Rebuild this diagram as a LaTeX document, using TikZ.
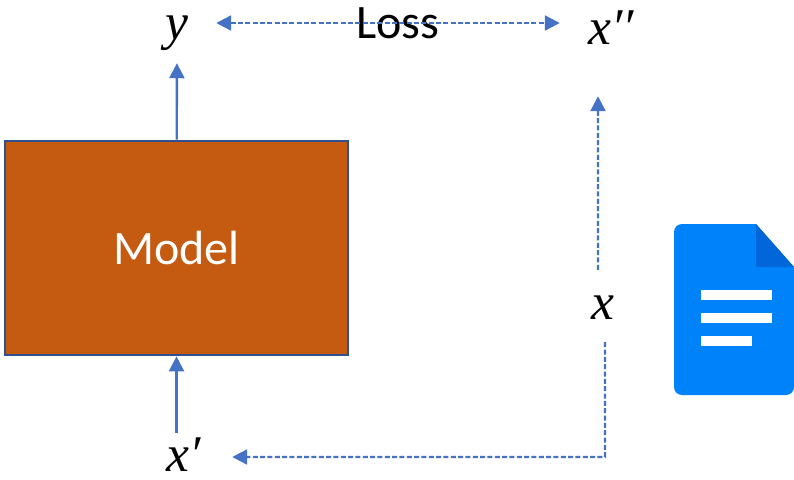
\documentclass[tikz,border=0pt]{standalone}
\usepackage{fontspec}
\usepackage{xcolor}
\setmainfont{Carlito}
\newfontfamily\symfont{Liberation Serif}
\usetikzlibrary{arrows.meta, calc}
\definecolor{lineblue}{RGB}{68, 114, 196}
\definecolor{boxrim}{RGB}{47, 82, 143}
\definecolor{boxfill}{RGB}{197, 90, 17}
\definecolor{docblue}{RGB}{0, 130, 251}
\definecolor{docfold}{RGB}{0, 102, 218}

\begin{document}
\begin{tikzpicture}[
  x=0.3mm, y=-0.3mm,
  every node/.style={font=\fontsize{41}{49}\selectfont, inner sep=0pt},
  sym/.style={font=\fontsize{44}{52}\symfont\itshape, text=black},
  modelbox/.style={draw=boxrim, fill=boxfill, line width=0.8mm, text=white, minimum width=10.29cm, minimum height=6.42cm},
  arrow/.style={-{Triangle[length=4.5mm, width=4.5mm]}, line width=0.7mm, color=lineblue},
  dasharrow/.style={arrow, dash pattern=on 1.5mm off 0.7mm}
]
  \useasboundingbox (0, 0) rectangle (794, 479);

  % Modello e simboli
  \node[modelbox] (model) at (176.5, 248) {Model};
  \node[sym, minimum width=2.34cm, minimum height=1.8cm] (y) at (177, 33) {y};
  \node[sym, minimum width=2.88cm, minimum height=1.32cm] (xp) at (184, 455) {x′};
  \node[sym, minimum width=1.56cm, minimum height=1.2cm] (xpp) at (611, 28) {x′′};
  \node[sym, minimum width=1cm, minimum height=2.16cm] (x) at (603, 308) {x};
  \node (loss) at (398, 23) {Loss};
  \coordinate (corner) at (605, 457);

  % Frecce
  \draw[arrow] (model) -- (y);
  \draw[arrow] (model.south |- xp.north) -- (model.south);
  \draw[dasharrow, {Triangle[length=4.5mm, width=4.5mm]}-{Triangle[length=4.5mm, width=4.5mm]}] (y.east |- loss) -- ([xshift=-0.75cm]xpp.west |- loss);
  \draw[dasharrow] ([xshift=-0.15cm, yshift=0.06cm]x.north) -- ([xshift=-0.39cm, yshift=-1.44cm]xpp.south);
  \draw[dasharrow] ([xshift=0.06cm, yshift=0.06cm]x.south) -- (corner) -- (xp.east |- corner);

  % Documento
  \fill[docblue, rounded corners=2.4mm] (674, 310) -- (674, 224) [sharp corners] -- (756, 224) -- (794, 267) [rounded corners=2.4mm] -- (794, 395) -- (674, 395) -- cycle;
  \fill[docfold] (756, 224) -- (794, 267) -- (756, 267) -- cycle;
  \fill[white] (701, 290) rectangle (772, 300);
  \fill[white] (701, 313) rectangle (772, 323);
  \fill[white] (701, 336) rectangle (752, 346);
\end{tikzpicture}
\end{document}
